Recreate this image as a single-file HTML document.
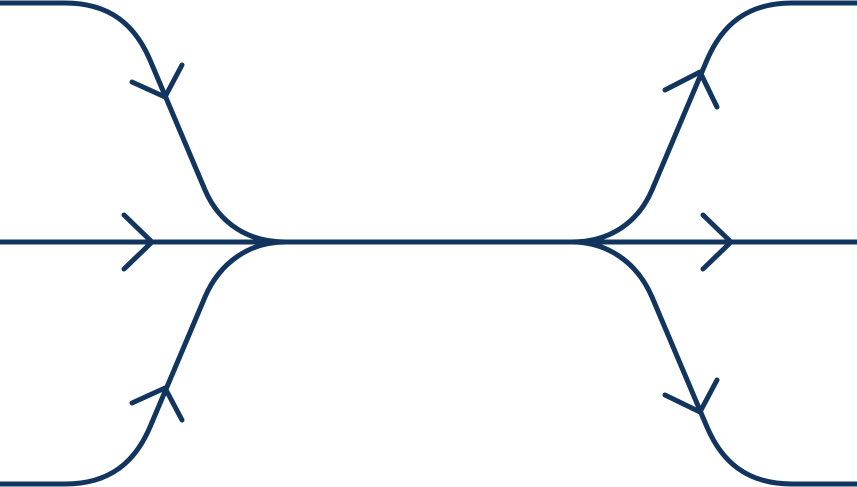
<!DOCTYPE html>
<html><head><meta charset="utf-8"><style>html,body{margin:0;padding:0;background:#fff}svg{display:block}</style></head>
<body>
<svg width="857" height="487" viewBox="0 0 857 487" xmlns="http://www.w3.org/2000/svg">
<g fill="none" stroke="#12355f" stroke-width="5" stroke-linecap="round" stroke-linejoin="round">
<path d="M0,3 H65 C110,3 135,25 150,60 L205,190 C220,225 250,242 285,242"/>
<path d="M0,242 H857"/>
<path d="M0,484 H65 C110,484 135,462 150,427 L205,297 C220,262 250,242 285,242"/>
<path d="M857,3 H792 C747,3 722,25 707,60 L652,190 C637,225 607,242 572,242"/>
<path d="M857,484 H792 C747,484 722,462 707,427 L652,297 C637,262 607,242 572,242"/>
<path d="M132,82 L165,97 L182,65"/>
<path d="M124,215 L152,242 L124,269"/>
<path d="M132,403 L165,388 L182,420"/>
<path d="M665,90 L700,72 L717,107"/>
<path d="M703,215 L731,242 L703,269"/>
<path d="M665,395 L700,412 L717,380"/>
</g>
</svg>
</body></html>
